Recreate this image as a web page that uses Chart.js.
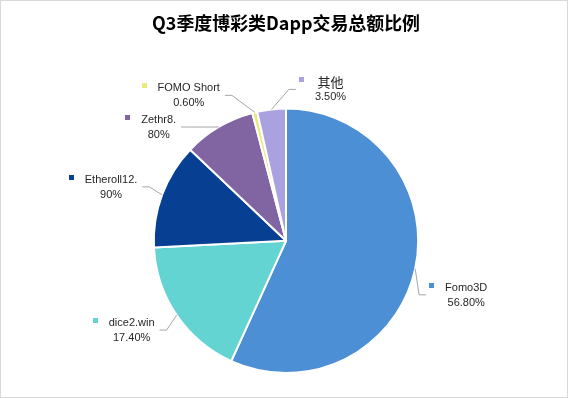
<!DOCTYPE html>
<html>
<head>
<meta charset="utf-8">
<script src="https://cdn.jsdelivr.net/npm/chart.js@4.4.1/dist/chart.umd.min.js"></script>
<style>
  html, body { margin: 0; padding: 0; background: #fff; }
  #wrap { width: 568px; height: 398px; }
</style>
</head>
<body>
<div id="wrap"><canvas id="pie" width="568" height="398"></canvas></div>
<script>
// data
const categories = ['Fomo3D', 'dice2.win', 'Etheroll', 'Zethr', 'FOMO Short', '其他'];
const shares = [56.8, 17.4, 12.9, 8.8, 0.6, 3.5];
// label text as it appears (the source split some labels oddly)
const labelNames = ['Fomo3D', 'dice2.win', 'Etheroll12.', 'Zethr8.', 'FOMO Short', '其他'];
const labelValues = ['56.80%', '17.40%', '90%', '80%', '0.60%', '3.50%'];

const colors = ['#4d8fd5', '#64d4d3', '#073f92', '#8165a3', '#e7eb7c', '#aaa1e1'];
// where each label sits relative to its slice's outer edge point
const labelNudge = [[51, 26], [-45, 15], [-51, -8], [-60, 0], [-66, -17], [59, -20]];

const labelFont = '11px "Liberation Sans", "Noto Sans CJK SC", sans-serif';
const cjkFont = '13px "Noto Sans CJK SC", sans-serif';

const outsideLabels = {
    id: 'outsideLabels',
    beforeDraw(chart) {
        const ctx = chart.ctx;
        ctx.save();
        ctx.fillStyle = '#fff';
        ctx.fillRect(0, 0, chart.width, chart.height);
        ctx.strokeStyle = '#d9d9d9';
        ctx.lineWidth = 1;
        ctx.strokeRect(0.5, 0.5, chart.width - 1, chart.height - 1);
        ctx.restore();
    },
    afterDatasetsDraw(chart) {
        const ctx = chart.ctx;
        const meta = chart.getDatasetMeta(0);
        ctx.save();
        meta.data.forEach((arc, i) => {
            const mid = (arc.startAngle + arc.endAngle) / 2;
            const px = arc.x + Math.cos(mid) * arc.outerRadius;
            const py = arc.y + Math.sin(mid) * arc.outerRadius;
            const cx = px + labelNudge[i][0];
            const cy = py + labelNudge[i][1];

            const nameFont = /[\u4e00-\u9fff]/.test(labelNames[i]) ? cjkFont : labelFont;
            ctx.font = nameFont;
            const w1 = ctx.measureText(labelNames[i]).width;
            ctx.font = labelFont;
            const w2 = ctx.measureText(labelValues[i]).width;
            const maxW = Math.max(w1, w2);
            const textLeft = cx - maxW / 2;
            const textRight = cx + maxW / 2;
            const y1 = cy - 7;
            const y2 = cy + 8;

            // leader line
            const right = labelNudge[i][0] > 0;
            const tx = right ? textLeft - 19 : textRight + 5;
            const ex = right ? tx - 7 : tx + 7;
            ctx.strokeStyle = '#a6a6a6';
            ctx.lineWidth = 1;
            ctx.beginPath();
            ctx.moveTo(px, py);
            ctx.lineTo(ex, cy);
            ctx.lineTo(tx, cy);
            ctx.stroke();

            // marker square
            ctx.fillStyle = colors[i];
            ctx.fillRect(Math.round(textLeft - 16), Math.round(y1 - 5), 5, 5);

            // text
            ctx.fillStyle = '#262626';
            ctx.textAlign = 'center';
            ctx.textBaseline = 'middle';
            ctx.font = nameFont;
            ctx.fillText(labelNames[i], cx, y1);
            ctx.font = labelFont;
            ctx.fillText(labelValues[i], cx, y2);
        });
        ctx.restore();
    }
};

new Chart(document.getElementById('pie'), {
    type: 'pie',
    data: {
        labels: categories,
        datasets: [{
            data: shares,
            backgroundColor: colors,
            borderColor: '#ffffff',
            borderWidth: 2
        }]
    },
    options: {
        responsive: false,
        animation: false,
        layout: { padding: { left: 152, right: 148, top: 0, bottom: 24 } },
        plugins: {
            legend: { display: false },
            tooltip: { enabled: false },
            title: {
                display: true,
                text: 'Q3季度博彩类Dapp交易总额比例',
                color: '#000',
                font: { family: '"Noto Sans CJK SC", sans-serif', size: 18, weight: 'bold' },
                padding: { top: 12, bottom: 74 }
            }
        }
    },
    plugins: [outsideLabels]
});
</script>
</body>
</html>
